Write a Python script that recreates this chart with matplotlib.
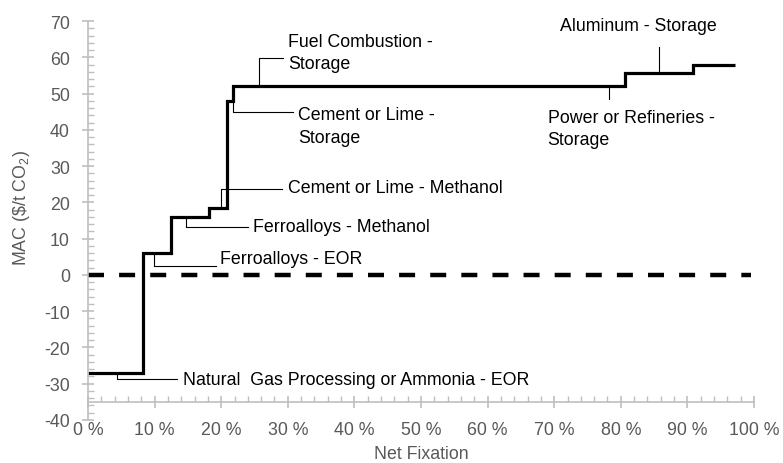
import matplotlib
matplotlib.use("Agg")
import matplotlib.pyplot as plt
from matplotlib.ticker import MultipleLocator, FuncFormatter

plt.rcParams['font.family'] = ['Liberation Sans', 'DejaVu Sans']
plt.rcParams['mathtext.fontset'] = 'custom'
plt.rcParams['mathtext.rm'] = 'Liberation Sans'
plt.rcParams['mathtext.it'] = 'Liberation Sans'

# ---- data ----
sources = ["Natural  Gas Processing or Ammonia - EOR", "Ferroalloys - EOR",
           "Ferroalloys - Methanol", "Cement or Lime - Methanol",
           "Cement or Lime -\nStorage", "Fuel Combustion -\nStorage",
           "Power or Refineries -\nStorage", "Aluminum - Storage", ""]
fixation_edges = [0, 8.2, 12.5, 18.2, 20.8, 21.8, 50.0, 80.6, 90.9, 97.1]  # cumulative %
mac_values = [-27, 6, 16, 18.5, 48, 52, 52, 55.7, 58]  # $/t CO2

# ---- label layout: (leader x, leader end y, horizontal end x, text x, text y) ----
layout = [
    (4.4, -28.7, 13.4, 14.3, -28.8),
    (9.9, 2.4, 19.2, 19.8, 4.4),
    (14.7, 13.1, 24.0, 24.7, 13.4),
    (20.0, 23.6, 29.1, 30.0, 24.1),
    (21.7, 44.9, 30.8, 31.5, 41.0),
    (25.7, 59.7, 29.3, 30.1, 61.3),
    (78.2, 48.6, None, 69.0, 40.3),
    (85.8, 62.9, None, 70.8, 68.7),
]

fig = plt.figure(figsize=(7.83, 4.64), dpi=100)
ax = fig.add_axes([88/783, 43/464, 666/783, 399/464])

axis_gray = '#BFBFBF'
text_gray = '#595959'

ax.stairs(mac_values, fixation_edges, baseline=None, color='black', lw=2.3)
ax.plot([0, 99.5], [0, 0], color='black', lw=3.2, linestyle=(0, (3.6, 3.4)),
        solid_capstyle='butt', dash_capstyle='butt')

for i, (lx, ly, hx, tx, ty) in enumerate(layout):
    y0 = mac_values[i]
    if hx is None:
        ax.plot([lx, lx], [y0, ly], color='black', lw=0.8)
    else:
        ax.plot([lx, lx, hx], [y0, ly, ly], color='black', lw=0.8)
    ax.text(tx, ty, sources[i], fontsize=12.8, ha='left', va='center',
            linespacing=1.42, color='black')

ax.set_xlim(0, 100)
ax.set_ylim(-40, 70)

for s in ['top', 'right']:
    ax.spines[s].set_visible(False)
ax.spines['left'].set_color(axis_gray)
ax.spines['bottom'].set_color(axis_gray)
ax.spines['left'].set_linewidth(1.2)
ax.spines['bottom'].set_linewidth(1.2)
ax.spines['bottom'].set_position(('data', -35))

ax.xaxis.set_major_locator(MultipleLocator(10))
ax.xaxis.set_minor_locator(MultipleLocator(2))
ax.yaxis.set_major_locator(MultipleLocator(10))
ax.yaxis.set_minor_locator(MultipleLocator(2))
ax.xaxis.set_major_formatter(FuncFormatter(lambda v, p: f"{int(round(v))} %"))
ax.yaxis.set_major_formatter(FuncFormatter(lambda v, p: f"{int(round(v))}"))

ax.tick_params(axis='both', which='major', direction='inout', length=8,
               width=1.2, color=axis_gray, labelcolor=text_gray, labelsize=12.8)
ax.tick_params(axis='both', which='minor', direction='in', length=4,
               width=1.0, color=axis_gray)
ax.tick_params(axis='x', which='major', pad=10)
ax.tick_params(axis='y', which='major', pad=9)

ax.set_xlabel("Net Fixation", fontsize=12.8, color=text_gray)
ax.xaxis.set_label_coords(0.5, -0.063)
ax.set_ylabel(r"MAC (\$/t CO$_2$)", fontsize=12.8, color=text_gray)
ax.yaxis.label.set_va('center')
ax.yaxis.set_label_coords(-0.100, 0.535)

fig.savefig("out.png", dpi=100)
